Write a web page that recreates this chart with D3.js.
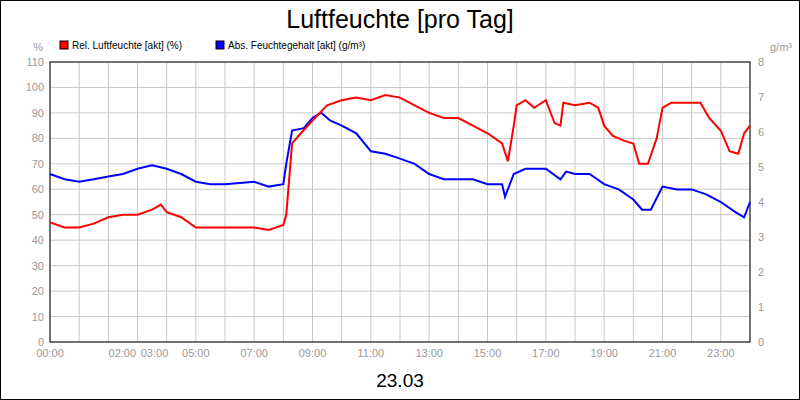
<!DOCTYPE html>
<html><head><meta charset="utf-8">
<script src="https://cdn.jsdelivr.net/npm/d3@7"></script>
<style>body{margin:0;background:#fff}svg{font-family:Arial,"Liberation Sans",sans-serif}</style>
</head><body><svg id="c" width="800" height="400"></svg>
<script>
// Stunden des Tages und Messwerte
var relHours = [0,0.5,1,1.5,2,2.5,3,3.5,3.8,4,4.5,5,6,6.5,7,7.5,8,8.1,8.3,8.6,9,9.5,10,10.5,11,11.5,12,12.5,13,13.5,14,14.5,15,15.5,15.7,15.9,16,16.3,16.6,17,17.3,17.5,17.6,18,18.5,18.8,19,19.3,19.7,20,20.2,20.5,20.8,21,21.3,22,22.3,22.6,23,23.3,23.6,23.8,24];
var relValues = [47,45,45,46.5,49,50,50,52,54,51,49,45,45,45,45,44,46,50,78,82,87,93,95,96,95,97,96,93,90,88,88,85,82,78,71,85,93,95,92,95,86,85,94,93,94,92,85,81,79,78,70,70,80,92,94,94,94,88,83,75,74,82,85];
var absHours = [0,0.5,1,1.5,2,2.5,3,3.5,4,4.5,5,5.5,6,7,7.5,8,8.1,8.3,8.7,9,9.3,9.6,10,10.5,11,11.5,12,12.5,13,13.5,14,14.5,15,15.5,15.6,15.9,16.3,17,17.5,17.7,18,18.5,19,19.5,20,20.3,20.6,21,21.5,22,22.5,23,23.5,23.8,24];
var absValues = [4.80,4.65,4.58,4.65,4.73,4.80,4.95,5.05,4.95,4.80,4.58,4.51,4.51,4.58,4.44,4.51,5.09,6.04,6.11,6.40,6.55,6.33,6.18,5.96,5.45,5.38,5.24,5.09,4.80,4.65,4.65,4.65,4.51,4.51,4.15,4.80,4.95,4.95,4.65,4.87,4.80,4.80,4.51,4.36,4.07,3.78,3.78,4.44,4.36,4.36,4.22,4.00,3.71,3.56,4.00];
var xLabels = ["00:00","02:00","03:00","05:00","07:00","09:00","11:00","13:00","15:00","17:00","19:00","21:00","23:00"];
var xLabelHours = [0,2,3,5,7,9,11,13,15,17,19,21,23];

var svg = d3.select("#c");
svg.append("rect").attr("x",0.5).attr("y",0.5).attr("width",799).attr("height",399).attr("fill","#fff").attr("stroke","#000");

var x = d3.scaleLinear().domain([0,24]).range([50,750]);
var yL = d3.scaleLinear().domain([0,110]).range([342,62]);
var yR = d3.scaleLinear().domain([0,8]).range([342,62]);

// Gitter
svg.append("g").selectAll("line").data(d3.range(0,25)).enter().append("line")
  .attr("x1",d=>x(d)).attr("x2",d=>x(d)).attr("y1",62).attr("y2",342).attr("stroke","#c8c8c8");
svg.append("g").selectAll("line").data(d3.range(0,111,10)).enter().append("line")
  .attr("x1",50).attr("x2",750).attr("y1",d=>yL(d)).attr("y2",d=>yL(d)).attr("stroke","#c8c8c8");
svg.append("rect").attr("x",50).attr("y",62).attr("width",700).attr("height",280).attr("fill","none").attr("stroke","#000");

// Achsenbeschriftung
var g = svg.append("g").attr("fill","#999").attr("font-size",11);
g.selectAll(".yl").data(d3.range(0,111,10)).enter().append("text")
  .attr("x",44).attr("y",d=>yL(d)+4).attr("text-anchor","end").text(d=>d);
g.selectAll(".yr").data(d3.range(0,9)).enter().append("text")
  .attr("x",758).attr("y",d=>yR(d)+4).text(d=>d);
g.selectAll(".xl").data(xLabelHours).enter().append("text")
  .attr("x",(d,i)=> d==2 ? x(d)+14 : d==3 ? x(d)+17 : x(d))
  .attr("y",357).attr("text-anchor","middle").text((d,i)=>xLabels[i]);
g.append("text").attr("x",43).attr("y",51).attr("text-anchor","end").text("%");
g.append("text").attr("x",792).attr("y",51).attr("text-anchor","end").text("g/m³");

// Linien
var lineL = d3.line().x((d,i)=>x(relHours[i])).y(d=>yL(d));
var lineR = d3.line().x((d,i)=>x(absHours[i])).y(d=>yR(d));
svg.append("path").attr("d",lineR(absValues)).attr("fill","none").attr("stroke","#0000ff").attr("stroke-width",2);
svg.append("path").attr("d",lineL(relValues)).attr("fill","none").attr("stroke","#ff0000").attr("stroke-width",2);

// Titel und Legende
svg.append("text").attr("x",400).attr("y",28).attr("text-anchor","middle").attr("font-size",25).text("Luftfeuchte [pro Tag]");
svg.append("text").attr("x",400).attr("y",387).attr("text-anchor","middle").attr("font-size",19).text("23.03");
var leg = [["Rel. Luftfeuchte [akt] (%)","#ff0000",60],["Abs. Feuchtegehalt [akt] (g/m³)","#0000ff",216]];
leg.forEach(function(l){
  svg.append("rect").attr("x",l[2]).attr("y",41).attr("width",8).attr("height",8).attr("fill",l[1]).attr("stroke","#000");
  svg.append("text").attr("x",l[2]+12).attr("y",49).attr("font-size",10).text(l[0]);
});
</script></body></html>
